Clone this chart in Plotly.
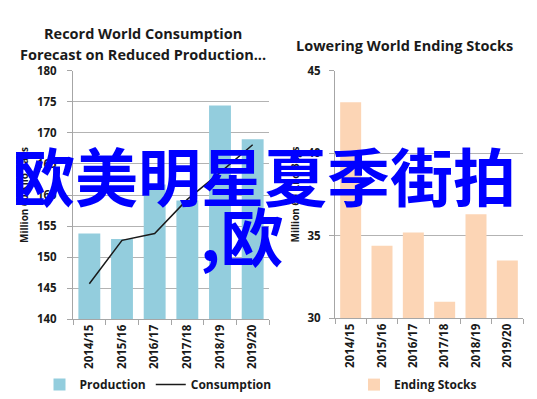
import plotly.graph_objects as go

categories = ["2014/15", "2015/16", "2016/17", "2017/18", "2018/19", "2019/20"]
production = [153.8, 152.9, 161.7, 159.1, 174.4, 169.0]
consumption = [145.7, 152.7, 153.8, 159.3, 163.6, 168.1]
ending_stocks = [43.1, 34.4, 35.2, 31.0, 36.3, 33.5]

W, H = 537, 399
def fx(px): return px / W
def fy(py): return 1 - py / H

FONT = "Open Sans"
tick_font = dict(family=FONT, size=11.5, color="#1a1a1a", weight="bold")

fig = go.Figure()
fig.add_trace(go.Bar(x=categories, y=production, name="Production",
                     marker=dict(color="#93CDDD", line=dict(width=0)),
                     xaxis="x", yaxis="y", legend="legend"))
fig.add_trace(go.Scatter(x=categories, y=consumption, name="Consumption", mode="lines",
                         line=dict(color="#1a1a1a", width=1.5),
                         xaxis="x", yaxis="y", legend="legend"))
fig.add_trace(go.Bar(x=categories, y=ending_stocks, name="Ending Stocks",
                     marker=dict(color="#FCD5B5", line=dict(width=0)),
                     xaxis="x2", yaxis="y2", legend="legend2"))

axis_common = dict(showline=True, linecolor="#a6a6a6", linewidth=1, ticks="outside",
                   tickcolor="#a6a6a6", ticklen=5, tickfont=tick_font)

fig.update_layout(
    width=W, height=H, margin=dict(l=0, r=0, t=0, b=0),
    paper_bgcolor="white", plot_bgcolor="white",
    bargap=0.33,
    xaxis=dict(domain=[fx(65), fx(261)], anchor="y", tickangle=-90, tickson="boundaries",
               showgrid=False, **axis_common),
    yaxis=dict(domain=[fy(315), fy(57)], anchor="x", range=[140, 180], dtick=5,
               showgrid=True, gridcolor="#b3b3b3", gridwidth=1, zeroline=False,
               ticklabelstandoff=8,
               title=dict(text="Million 60 Kilo Bags", standoff=6,
                          font=dict(family=FONT, size=10, color="#1a1a1a", weight="bold")),
               **axis_common),
    xaxis2=dict(domain=[fx(327), fx(515)], anchor="y2", tickangle=-90, tickson="boundaries",
                showgrid=False, **axis_common),
    yaxis2=dict(domain=[fy(314), fy(57)], anchor="x2", range=[30, 45], dtick=5,
                showgrid=True, gridcolor="#b3b3b3", gridwidth=1, zeroline=False,
                ticklabelstandoff=6,
                title=dict(text="Million 60 Kilo Bags", standoff=6,
                           font=dict(family=FONT, size=10, color="#1a1a1a", weight="bold")),
                **axis_common),
    legend=dict(orientation="h", x=fx(150), xanchor="center", y=fy(383), yanchor="middle",
                font=dict(family=FONT, size=12, color="#1a1a1a", weight="bold"),
                itemwidth=30, tracegroupgap=0, bgcolor="rgba(0,0,0,0)"),
    legend2=dict(orientation="h", x=fx(410), xanchor="center", y=fy(383), yanchor="middle",
                 font=dict(family=FONT, size=12, color="#1a1a1a", weight="bold"),
                 itemwidth=30, bgcolor="rgba(0,0,0,0)"),
    showlegend=True,
)

title_font = dict(family=FONT, size=14.5, color="#1a1a1a", weight="bold")
fig.add_annotation(text="Record World Consumption", x=fx(135), y=fy(18), xref="paper", yref="paper",
                   showarrow=False, font=title_font, xanchor="center", yanchor="middle")
fig.add_annotation(text="Forecast on Reduced Production...", x=fx(135), y=fy(40), xref="paper", yref="paper",
                   showarrow=False, font=title_font, xanchor="center", yanchor="middle")
fig.add_annotation(text="Lowering World Ending Stocks", x=fx(396), y=fy(31), xref="paper", yref="paper",
                   showarrow=False, font=title_font, xanchor="center", yanchor="middle")

overlay_font = dict(family="Noto Sans CJK SC", size=63, color="#0000FF", weight="bold")
fig.add_annotation(text="欧美明星夏季街拍", x=fx(256), y=fy(164), xref="paper", yref="paper",
                   showarrow=False, font=overlay_font, xanchor="center", yanchor="middle")
fig.add_annotation(text=",欧", x=fx(190), y=fy(226), xref="paper", yref="paper",
                   showarrow=False, font=overlay_font, xanchor="left", yanchor="middle")

fig.write_html("out.html")
